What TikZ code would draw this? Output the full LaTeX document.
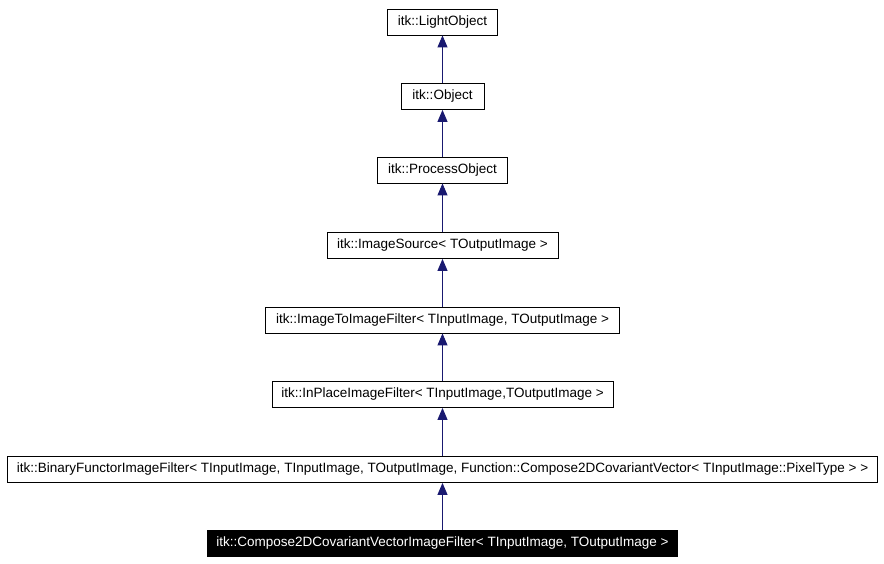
\documentclass[tikz,border=0pt]{standalone}
\usepackage{fontspec}
\setmainfont{Liberation Sans}
\usetikzlibrary{arrows.meta}
\definecolor{edgeblue}{RGB}{25,25,112}

\begin{document}
\begin{tikzpicture}[x=1pt, y=-1pt, font=\fontsize{13.5}{16}\selectfont, line join=miter,
    cls/.style={draw, line width=0.8pt, fill=white, minimum height=26pt, inner sep=0pt},
    inherit/.style={draw=edgeblue, line width=0.9pt, -{Triangle[length=12pt, width=10pt]}}]
    \useasboundingbox[fill=white] (0,0) rectangle (884,564);

    % Class boxes, base class on top
    \node[cls, minimum width=110pt] (light)   at (442.5, 22)    {itk::LightObject};
    \node[cls, minimum width=83pt]  (object)  at (442.5, 96.5)  {itk::Object};
    \node[cls, minimum width=130pt] (process) at (442.5, 170)   {itk::ProcessObject};
    \node[cls, minimum width=231pt] (source)  at (442.5, 245.5) {itk::ImageSource< TOutputImage >};
    \node[cls, minimum width=354pt] (imgimg)  at (442.5, 320)   {itk::ImageToImageFilter< TInputImage, TOutputImage >};
    \node[cls, minimum width=341pt] (inplace) at (442.5, 394.5) {itk::InPlaceImageFilter< TInputImage,TOutputImage >};
    \node[cls, minimum width=870pt] (binary)  at (442.5, 469.5) {itk::BinaryFunctorImageFilter< TInputImage, TInputImage, TOutputImage, Function::Compose2DCovariantVector< TInputImage::PixelType > >};

    % The documented class itself, drawn inverted
    \node[cls, fill=black, text=white, minimum width=470pt] (compose) at (442.5, 543)
        {itk::Compose2DCovariantVectorImageFilter< TInputImage, TOutputImage >};

    % Inheritance arrows (child to parent)
    \draw[inherit] (object)  -- (light);
    \draw[inherit] (process) -- (object);
    \draw[inherit] (source)  -- (process);
    \draw[inherit] (imgimg)  -- (source);
    \draw[inherit] (inplace) -- (imgimg);
    \draw[inherit] (binary)  -- (inplace);
    \draw[inherit] (compose) -- (binary);
\end{tikzpicture}
\end{document}
